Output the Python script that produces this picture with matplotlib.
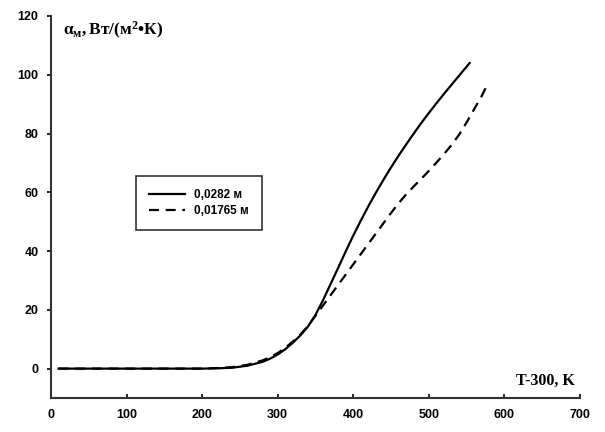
import matplotlib
matplotlib.use("Agg")
import matplotlib.pyplot as plt

# Data (T-300, K) vs alpha
x_solid = [10, 50, 100, 150, 200, 220, 240, 260, 280, 290, 300, 310, 320, 330, 340,
           350, 360, 370, 380, 390, 400, 410, 420, 430, 440, 450, 460, 470, 480,
           490, 500, 510, 520, 530, 540, 554]
y_solid = [0, 0, 0, 0, 0, 0.1, 0.3, 1, 2.3, 3.4, 4.8, 6.6, 8.8, 11.3, 14.3,
           18.3, 23.3, 28.8, 34.3, 39.9, 45.3, 50.4, 55.3, 59.9, 64.3, 68.5, 72.5, 76.3, 80,
           83.6, 87, 90.3, 93.5, 96.6, 99.7, 104]

x_dash = [10, 50, 100, 150, 200, 220, 240, 260, 280, 290, 300, 310, 320, 330, 340,
          350, 360, 370, 380, 390, 400, 410, 420, 430, 440, 450, 460, 470, 480,
          490, 500, 510, 520, 530, 540, 550, 560, 570, 578]
y_dash = [0, 0, 0, 0, 0, 0.2, 0.5, 1.3, 2.8, 3.9, 5.3, 7.1, 9.2, 11.6, 14.5,
          18, 21.5, 25, 28.5, 32, 35.5, 39, 42.5, 46, 49.5, 53, 56.3, 59.3, 62,
          64.6, 67.3, 70.1, 73, 76.1, 79.6, 83.8, 88.3, 92.8, 97]

labels = ["0,0282 м", "0,01765 м"]
xticks = [0, 100, 200, 300, 400, 500, 600, 700]
yticks = [0, 20, 40, 60, 80, 100, 120]

plt.rcParams['font.family'] = ['Liberation Sans', 'DejaVu Sans']
plt.rcParams['mathtext.fontset'] = 'custom'
plt.rcParams['mathtext.rm'] = 'Liberation Serif:bold'
plt.rcParams['mathtext.it'] = 'Liberation Serif:bold:italic'
plt.rcParams['mathtext.bf'] = 'Liberation Serif:bold'

fig = plt.figure(figsize=(6.05, 4.32), dpi=100)
ax = fig.add_axes([51/605, 34/432, 529/605, 382/432])

ax.plot(x_solid, y_solid, color='black', lw=1.6, label=labels[0])
ax.plot(x_dash, y_dash, color='black', lw=1.6, dashes=(4.5, 3), label=labels[1])

ax.set_xlim(0, 700)
ax.set_ylim(-10, 120)
ax.set_xticks(xticks)
ax.set_yticks(yticks)
ax.set_xticklabels([str(v) for v in xticks], fontweight='bold', fontsize=9)
ax.set_yticklabels([str(v) for v in yticks], fontweight='bold', fontsize=9)
ax.tick_params(axis='x', direction='in', length=3, width=1.2, pad=8)
ax.tick_params(axis='y', direction='out', length=3, width=1.2, pad=6)
for s in ['top', 'right']:
    ax.spines[s].set_visible(False)
for s in ['left', 'bottom']:
    ax.spines[s].set_linewidth(1.5)
    ax.spines[s].set_color('#333333')

ax.text(0.023, 0.963, r'$\mathrm{\alpha_{м}, Вт/(м^{2}•К)}$', transform=ax.transAxes,
        fontsize=12.5, ha='left', va='center')
ax.text(0.99, 0.045, 'T-300, K', transform=ax.transAxes, fontsize=11.5,
        fontweight='bold', family='Liberation Serif', ha='right', va='center')

leg = ax.legend(loc='upper left', bbox_to_anchor=(0.161, 0.581), borderaxespad=0,
                frameon=True, fancybox=False, prop={'weight': 'bold', 'size': 8.5},
                handlelength=3.0, borderpad=1.1, labelspacing=0.35,
                handletextpad=0.8)
leg.get_frame().set_edgecolor('black')
leg.get_frame().set_linewidth(1.2)

fig.savefig('out.png', dpi=100)
